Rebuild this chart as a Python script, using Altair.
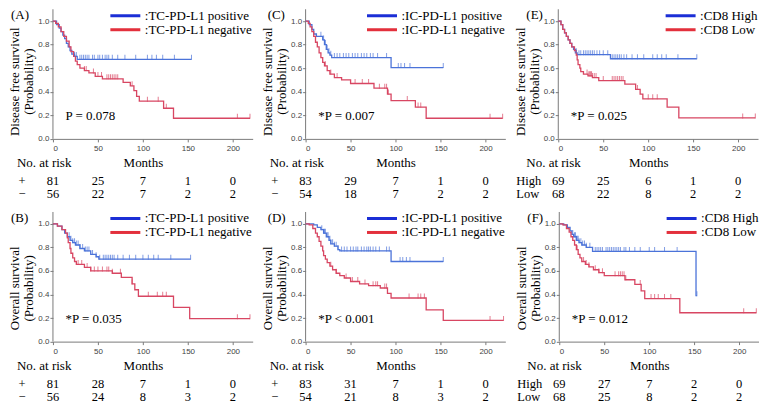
import altair as alt
import pandas as pd

# ---------------- data ----------------
RISK_MONTHS = [0, 50, 100, 150, 200]

# Panel A  (DFS, TC-PD-L1)
A_LABELS = [":TC-PD-L1 positive", ":TC-PD-L1 negative"]
A_POS = [(0, 1.0), (4, 0.97), (7, 0.94), (9, 0.91), (11, 0.88), (13, 0.85), (15, 0.81), (17, 0.78),
         (19, 0.75), (21, 0.72), (24, 0.70), (27, 0.675)]
A_POS_END = 154
A_POS_CENS = [24, 26, 30, 32, 34, 36, 38, 40, 44, 46, 50, 52, 55, 58, 60, 62, 66, 72, 80, 92, 105, 110, 115, 122, 135, 154]
A_NEG = [(0, 1.0), (3, 0.98), (6, 0.95), (9, 0.91), (12, 0.87), (15, 0.83), (18, 0.78), (20, 0.74), (23, 0.70),
         (25, 0.66), (27, 0.63), (30, 0.60), (35, 0.58), (40, 0.56), (47, 0.53), (55, 0.51), (78, 0.48),
         (86, 0.45), (90, 0.41), (93, 0.36), (96, 0.32), (123, 0.26), (134, 0.175)]
A_NEG_END = 219
A_NEG_CENS = [35, 37, 45, 50, 54, 60, 62, 64, 66, 68, 70, 72, 88, 105, 117, 126, 205, 219]
A_RISK_ROWS = ["+", "\u2212"]
A_RISK_POS = [81, 25, 7, 1, 0]
A_RISK_NEG = [56, 22, 7, 2, 2]
A_P = "P = 0.078"

# Panel B  (OS, TC-PD-L1)
B_LABELS = A_LABELS
B_POS = [(0, 1.0), (5, 0.98), (10, 0.95), (13, 0.92), (16, 0.89), (19, 0.86), (22, 0.84), (25, 0.82),
         (30, 0.79), (35, 0.77), (42, 0.74), (48, 0.72), (51, 0.70)]
B_POS_END = 153
B_POS_CENS = [18, 20, 22, 24, 26, 28, 30, 33, 36, 38, 40, 44, 48, 52, 56, 58, 60, 62, 64, 66, 68, 72, 78, 85,
              92, 100, 106, 112, 117, 131, 153]
B_NEG = [(0, 1.0), (5, 0.98), (10, 0.95), (14, 0.92), (16, 0.88), (17, 0.84), (19, 0.79), (20, 0.75),
         (22, 0.71), (24, 0.68), (26, 0.655), (35, 0.63), (42, 0.60), (66, 0.58), (76, 0.545), (88, 0.49),
         (91, 0.44), (95, 0.385), (134, 0.29), (152, 0.195)]
B_NEG_END = 219
B_NEG_CENS = [28, 32, 38, 42, 46, 50, 55, 60, 62, 66, 75, 88, 106, 116, 122, 126, 205, 219]
B_RISK_ROWS = A_RISK_ROWS
B_RISK_POS = [81, 28, 7, 1, 0]
B_RISK_NEG = [56, 24, 8, 3, 2]
B_P = "*P = 0.035"

# Panel C  (DFS, IC-PD-L1)
C_LABELS = [":IC-PD-L1 positive", ":IC-PD-L1 negative"]
C_POS = [(0, 1.0), (4, 0.97), (7, 0.93), (9, 0.89), (12, 0.87), (19, 0.84), (21, 0.80), (23, 0.76),
         (25, 0.73), (27, 0.71), (29, 0.69), (95, 0.605)]
C_POS_END = 153
C_POS_CENS = [17, 20, 22, 24, 26, 28, 32, 35, 38, 42, 45, 48, 52, 55, 58, 62, 65, 68, 72, 75, 80, 90,
              103, 106, 110, 116, 153]
C_NEG = [(0, 1.0), (3, 0.98), (5, 0.95), (7, 0.91), (9, 0.87), (11, 0.82), (13, 0.78), (15, 0.73),
         (17, 0.69), (19, 0.65), (21, 0.62), (24, 0.58), (27, 0.55), (32, 0.52), (40, 0.50), (50, 0.47),
         (76, 0.43), (91, 0.38), (95, 0.325), (122, 0.27), (134, 0.175)]
C_NEG_END = 219
C_NEG_CENS = [22, 28, 35, 55, 63, 70, 82, 88, 90, 92, 113, 125, 128, 205, 219]
C_RISK_ROWS = A_RISK_ROWS
C_RISK_POS = [83, 29, 7, 1, 0]
C_RISK_NEG = [54, 18, 7, 2, 2]
C_P = "*P = 0.007"

# Panel D  (OS, IC-PD-L1)
D_LABELS = C_LABELS
D_POS = [(0, 1.0), (9, 0.99), (13, 0.97), (17, 0.95), (20, 0.92), (23, 0.89), (26, 0.86), (28, 0.83),
         (32, 0.81), (36, 0.78), (38, 0.77), (95, 0.68)]
D_POS_END = 153
D_POS_CENS = [18, 20, 21, 22, 24, 25, 27, 28, 30, 32, 34, 36, 40, 43, 46, 50, 53, 56, 58, 62, 65, 68, 70,
              72, 75, 78, 82, 90, 93, 105, 108, 112, 116, 153]
D_NEG = [(0, 1.0), (4, 0.99), (8, 0.96), (11, 0.92), (13, 0.89), (15, 0.85), (17, 0.81), (19, 0.77),
         (20, 0.73), (22, 0.70), (24, 0.67), (27, 0.64), (30, 0.61), (34, 0.58), (38, 0.56), (43, 0.54),
         (50, 0.51), (60, 0.49), (70, 0.475), (83, 0.455), (91, 0.41), (95, 0.37), (134, 0.27), (153, 0.18)]
D_NEG_END = 220
D_NEG_CENS = [28, 34, 45, 52, 58, 66, 75, 78, 80, 88, 90, 115, 125, 128, 132, 205, 220]
D_RISK_ROWS = A_RISK_ROWS
D_RISK_POS = [83, 31, 7, 1, 0]
D_RISK_NEG = [54, 21, 8, 3, 2]
D_P = "*P < 0.001"

# Panel E  (DFS, CD8)
E_LABELS = [":CD8 High", ":CD8 Low"]
E_POS = [(0, 1.0), (3, 0.97), (5, 0.93), (7, 0.90), (9, 0.87), (11, 0.84), (13, 0.81), (15, 0.78),
         (17, 0.76), (19, 0.73), (21, 0.715), (58, 0.68)]
E_POS_END = 154
E_POS_CENS = [20, 23, 25, 28, 30, 32, 34, 36, 38, 40, 43, 46, 50, 55, 60, 62, 64, 66, 68, 70, 73, 76, 82,
              88, 95, 105, 110, 115, 120, 133, 154]
E_NEG = [(0, 1.0), (3, 0.97), (5, 0.93), (7, 0.90), (9, 0.87), (11, 0.84), (13, 0.81), (15, 0.78),
         (18, 0.75), (20, 0.71), (21, 0.67), (22, 0.63), (24, 0.60), (25, 0.57), (28, 0.55), (33, 0.535),
         (38, 0.52), (45, 0.495), (74, 0.465), (86, 0.42), (91, 0.38), (94, 0.34), (121, 0.27), (134, 0.178)]
E_NEG_END = 219
E_NEG_CENS = [32, 34, 35, 36, 37, 38, 40, 42, 50, 60, 62, 64, 66, 68, 70, 72, 88, 100, 105, 110, 205, 219]
E_RISK_ROWS = ["High", "Low"]
E_RISK_POS = [69, 25, 6, 1, 0]
E_RISK_NEG = [68, 22, 8, 2, 2]
E_P = "*P = 0.025"

# Panel F  (OS, CD8)
F_LABELS = E_LABELS
F_POS = [(0, 1.0), (5, 0.99), (9, 0.97), (12, 0.94), (14, 0.91), (16, 0.89), (19, 0.86), (22, 0.84),
         (25, 0.82), (30, 0.80), (37, 0.765), (152, 0.39)]
F_POS_END = 153
F_POS_CENS = [15, 17, 18, 19, 20, 21, 22, 24, 26, 28, 30, 34, 40, 42, 44, 46, 48, 52, 54, 56, 58, 60, 62,
              64, 66, 68, 72, 74, 78, 84, 90, 100, 106, 117, 131, 153]
F_NEG = [(0, 1.0), (4, 0.99), (8, 0.96), (11, 0.93), (13, 0.89), (15, 0.86), (17, 0.82), (19, 0.78),
         (21, 0.74), (23, 0.71), (25, 0.68), (29, 0.655), (33, 0.635), (38, 0.61), (44, 0.585), (50, 0.56),
         (73, 0.525), (84, 0.485), (91, 0.43), (95, 0.365), (134, 0.245)]
F_NEG_END = 219
F_NEG_CENS = [20, 27, 30, 33, 40, 44, 48, 62, 66, 68, 70, 72, 74, 90, 102, 106, 110, 117, 124, 205, 219]
F_RISK_ROWS = E_RISK_ROWS
F_RISK_POS = [69, 27, 7, 2, 0]
F_RISK_NEG = [68, 25, 8, 2, 2]
F_P = "*P = 0.012"

# ---------------- style ----------------
SERIF = "Liberation Serif"
SANS = "Liberation Sans"
BLUE, RED = "#4b73d9", "#d84662"
LEG_BLUE, LEG_RED = "#1b2ed6", "#e3303c"
W, H = 200, 193
TOP = 1.1
PX_PER_UNIT = 118
LO = TOP - H / PX_PER_UNIT
Y0 = H * TOP / (TOP - LO)          # pixel position of survival 0 from plot top
XMAX = 222
RISK_FONT = 12.5


def step_rows(steps, end, label):
    rows = [{"t": t, "s": s, "g": label} for t, s in steps]
    rows.append({"t": end, "s": steps[-1][1], "g": label})
    return rows


def cens_rows(steps, cens, label):
    out = []
    for c in cens:
        s = [v for t, v in steps if t <= c][-1]
        out.append({"t": c, "s": s, "g": label})
    return out


def panel(letter, ytitle, title_y, labels, pos, pos_end, pos_cens, neg, neg_end, neg_cens,
          risk_rows, risk_pos, risk_neg, ptext, lab_dx, row_dx, row_align, nar_dx):
    lines = pd.DataFrame(step_rows(pos, pos_end, labels[0]) + step_rows(neg, neg_end, labels[1]))
    cens = pd.DataFrame(cens_rows(pos, pos_cens, labels[0]) + cens_rows(neg, neg_cens, labels[1]))

    xs = alt.Scale(domain=[0, XMAX], nice=False, zero=False)
    ys = alt.Scale(domain=[LO, TOP], nice=False, zero=False)
    xaxis = alt.Axis(values=[0, 50, 100, 150, 200], title="Months", titleX=100 * W / XMAX,
                     offset=-(H - Y0), labelPadding=3, titlePadding=4, tickSize=3)
    yaxis = alt.Axis(values=[0, 0.2, 0.4, 0.6, 0.8, 1.0], format=".1f", domain=False,
                     title=[ytitle, "(Probability)"], titleY=title_y, titleLineHeight=14,
                     titlePadding=2, labelPadding=1, tickSize=3)
    X = alt.X("t:Q", scale=xs, axis=xaxis)
    Y = alt.Y("s:Q", scale=ys, axis=yaxis)

    color = alt.Color("g:N", scale=alt.Scale(domain=labels, range=[BLUE, RED]), legend=None)

    axis_line = alt.Chart(pd.DataFrame({"t": [0], "s": [0], "s2": [TOP]})).mark_rule(
        color="#7a7a7a", strokeWidth=1).encode(x=X, y=Y, y2="s2")

    curve = alt.Chart(lines).mark_line(interpolate="step-after", strokeWidth=1.3).encode(
        x=X, y=Y, color=color, detail="g:N")

    ticks = alt.Chart(cens).mark_tick(orient="vertical", size=5, thickness=1, yOffset=-2).encode(
        x=X, y=Y, color=color)

    ptxt = alt.Chart(pd.DataFrame({"t": [14], "s": [0.19], "txt": [ptext]})).mark_text(
        align="left", baseline="middle", font=SERIF, fontSize=13, color="black").encode(
        x=X, y=Y, text="txt:N")

    legend_layer = alt.Chart(lines).transform_filter("false").mark_line(strokeWidth=3).encode(
        x=X, y=Y,
        color=alt.Color("g:N", scale=alt.Scale(domain=labels, range=[LEG_BLUE, LEG_RED]),
                        legend=alt.Legend(title=None, orient="top-right", offset=0, padding=0,
                                          symbolType="M-9,0H1", symbolSize=36, symbolStrokeWidth=3,
                                          labelFont=SERIF, labelFontSize=13, labelColor="black",
                                          labelOffset=1, rowPadding=0, labelLimit=0)))

    inner = alt.layer(axis_line, curve, ticks, ptxt, legend_layer).resolve_scale(color="independent")

    risk = pd.DataFrame(
        [{"t": m, "n": str(n), "row": risk_rows[0]} for m, n in zip(RISK_MONTHS, risk_pos)] +
        [{"t": m, "n": str(n), "row": risk_rows[1]} for m, n in zip(RISK_MONTHS, risk_neg)])
    ry = alt.Y("row:O", scale=alt.Scale(type="point", domain=risk_rows, range=[Y0 + 42, Y0 + 55.5],
                                        padding=0), axis=None)
    risk_nums = alt.Chart(risk).mark_text(font=SERIF, fontSize=RISK_FONT, baseline="middle",
                                          align="center", color="black").encode(
        x=X, y=ry, text="n:N")
    row_lab = alt.Chart(pd.DataFrame({"row": risk_rows})).mark_text(
        font=SERIF, fontSize=RISK_FONT, baseline="middle", align=row_align, color="black").encode(
        x=alt.value(row_dx), y=ry, text="row:N")
    nar = alt.Chart(pd.DataFrame({"a": [0]})).mark_text(
        font=SERIF, fontSize=13, baseline="middle", align="left", color="black").encode(
        x=alt.value(nar_dx), y=alt.value(Y0 + 24), text=alt.value("No. at risk"))
    lab = alt.Chart(pd.DataFrame({"a": [0]})).mark_text(
        font=SERIF, fontSize=13, baseline="top", align="left", color="black").encode(
        x=alt.value(lab_dx), y=alt.value(0), text=alt.value(f"({letter})"))

    return alt.layer(inner, risk_nums, row_lab, nar, lab).resolve_scale(y="independent").properties(
        width=W, height=H)


DFS = "Disease free survival"
OS = "Overall survival"

pA = panel("A", DFS, 72, A_LABELS, A_POS, A_POS_END, A_POS_CENS, A_NEG, A_NEG_END, A_NEG_CENS,
           A_RISK_ROWS, A_RISK_POS, A_RISK_NEG, A_P, -42, -31, "center", -36)
pB = panel("B", OS, 76, B_LABELS, B_POS, B_POS_END, B_POS_CENS, B_NEG, B_NEG_END, B_NEG_CENS,
           B_RISK_ROWS, B_RISK_POS, B_RISK_NEG, B_P, -42, -31, "center", -36)
pC = panel("C", DFS, 72, C_LABELS, C_POS, C_POS_END, C_POS_CENS, C_NEG, C_NEG_END, C_NEG_CENS,
           C_RISK_ROWS, C_RISK_POS, C_RISK_NEG, C_P, -38, -31, "center", -36)
pD = panel("D", OS, 76, D_LABELS, D_POS, D_POS_END, D_POS_CENS, D_NEG, D_NEG_END, D_NEG_CENS,
           D_RISK_ROWS, D_RISK_POS, D_RISK_NEG, D_P, -38, -31, "center", -36)
pE = panel("E", DFS, 72, E_LABELS, E_POS, E_POS_END, E_POS_CENS, E_NEG, E_NEG_END, E_NEG_CENS,
           E_RISK_ROWS, E_RISK_POS, E_RISK_NEG, E_P, -32, -42, "left", -32)
pF = panel("F", OS, 76, F_LABELS, F_POS, F_POS_END, F_POS_CENS, F_NEG, F_NEG_END, F_NEG_CENS,
           F_RISK_ROWS, F_RISK_POS, F_RISK_NEG, F_P, -32, -42, "left", -32)

row1 = alt.hconcat(pA, pC, pE, spacing=8)
row2 = alt.hconcat(pB, pD, pF, spacing=8)

chart = alt.vconcat(row1, row2, spacing=9).properties(padding=0).configure_view(
    stroke=None).configure_axis(
    grid=False, labelFont=SANS, labelFontSize=8, labelColor="#444444",
    tickColor="#7a7a7a", domainColor="#7a7a7a", titleFont=SERIF, titleFontSize=13,
    titleFontWeight="normal", titleColor="black")

chart.save("out.html", embed_options={"renderer": "svg", "actions": False})
